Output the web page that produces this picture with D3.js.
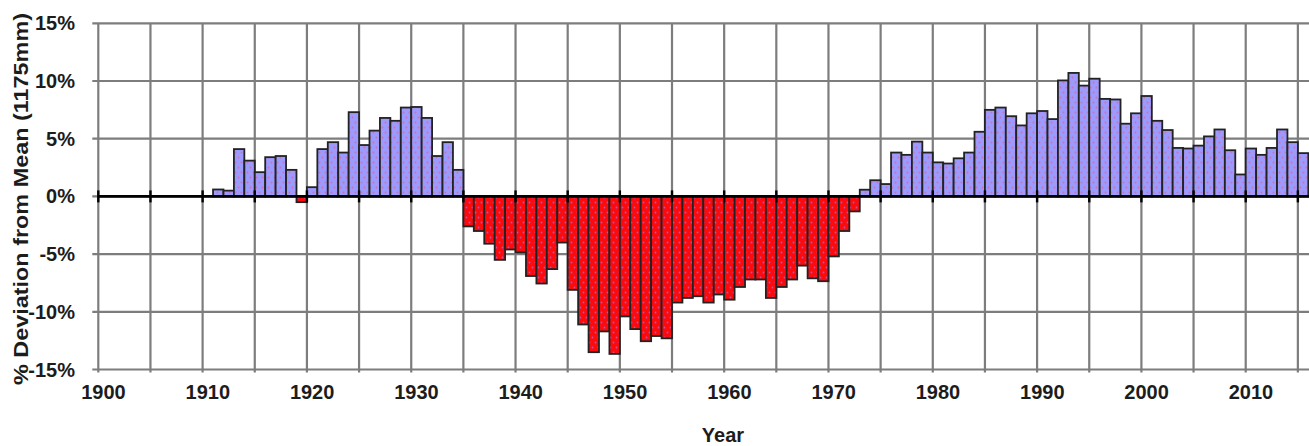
<!DOCTYPE html>
<html>
<head>
<meta charset="utf-8">
<script src="https://cdn.jsdelivr.net/npm/d3@7"></script>
<style>
  body { margin: 0; background: #fff; }
  text { font-family: "Liberation Sans", Arial, sans-serif; font-weight: bold; fill: #1c1c1c; }
</style>
</head>
<body>
<svg id="chart" width="1309" height="446"></svg>
<script>
// year range shown on the category axis
const firstYear = 1900;
const lastYear = 2015;

// % deviation from mean (1175mm), first bar is 1911
const dataStart = 1911;
const deviation = [
  0.6, 0.5, 4.1, 3.1, 2.1, 3.4, 3.5, 2.3, -0.5, 0.8,
  4.1, 4.7, 3.8, 7.3, 4.45, 5.7, 6.8, 6.55, 7.7, 7.75,
  6.8, 3.5, 4.7, 2.3, -2.6, -3.0, -4.1, -5.5, -4.6, -4.85,
  -6.9, -7.55, -6.3, -4.0, -8.1, -11.1, -13.5, -11.7, -13.65, -10.4,
  -11.5, -12.55, -12.1, -12.3, -9.2, -8.8, -8.65, -9.2, -8.5, -8.95,
  -7.85, -7.2, -7.2, -8.8, -7.85, -7.2, -6.0, -7.1, -7.35, -5.2,
  -3.0, -1.3, 0.58, 1.4, 1.07, 3.8, 3.6, 4.75, 3.8, 2.95,
  2.85, 3.3, 3.8, 5.6, 7.5, 7.7, 6.95, 6.15, 7.2, 7.4,
  6.7, 10.05, 10.7, 9.6, 10.2, 8.45, 8.4, 6.3, 7.2, 8.7,
  6.55, 5.75, 4.2, 4.15, 4.4, 5.2, 5.8, 4.0, 1.9, 4.15,
  3.6, 4.2, 5.8, 4.7, 3.75
];

const yTicks = [-15, -10, -5, 0, 5, 10, 15];
const xLabelYears = [1900, 1910, 1920, 1930, 1940, 1950, 1960, 1970, 1980, 1990, 2000, 2010];
const xGridYears = d3.range(firstYear, lastYear + 1, 5);

const data = deviation.map((v, i) => ({ year: dataStart + i, value: v }));

const svg = d3.select("#chart");
const margin = { left: 98.3, right: 1308.3, top: 23.3, bottom: 369.5 };

const x = d3.scaleBand()
  .domain(d3.range(firstYear, lastYear + 1))
  .range([margin.left, margin.right])
  .padding(0);

const y = d3.scaleLinear()
  .domain([-15, 15])
  .range([margin.bottom, margin.top]);

// dotted fills
const defs = svg.append("defs");
function dots(id, bg, dot) {
  const p = defs.append("pattern")
    .attr("id", id)
    .attr("patternUnits", "userSpaceOnUse")
    .attr("width", 6).attr("height", 10);
  p.append("rect").attr("width", 6).attr("height", 10).attr("fill", bg);
  p.append("circle").attr("cx", 1.5).attr("cy", 2.5).attr("r", 0.9).attr("fill", dot);
  p.append("circle").attr("cx", 4.5).attr("cy", 7.5).attr("r", 0.9).attr("fill", dot);
}
dots("bluePat", "#9a9aff", "#e46a9a");
dots("redPat", "#ff0a0a", "#a05ac8");

// grid
svg.append("g")
  .selectAll("line")
  .data(yTicks)
  .join("line")
  .attr("x1", margin.left - 6).attr("x2", 1309)
  .attr("y1", d => y(d)).attr("y2", d => y(d))
  .attr("stroke", "#7d7d7d")
  .attr("stroke-width", 2.2);

svg.append("g")
  .selectAll("line")
  .data(xGridYears)
  .join("line")
  .attr("x1", d => x(d)).attr("x2", d => x(d))
  .attr("y1", margin.top).attr("y2", margin.bottom + 3)
  .attr("stroke", "#7d7d7d")
  .attr("stroke-width", 2.2);

// bars
svg.append("g")
  .selectAll("rect")
  .data(data)
  .join("rect")
  .attr("x", d => x(d.year))
  .attr("width", x.bandwidth())
  .attr("y", d => y(Math.max(0, d.value)))
  .attr("height", d => Math.abs(y(d.value) - y(0)))
  .attr("fill", d => d.value >= 0 ? "url(#bluePat)" : "url(#redPat)")
  .attr("stroke", "#222")
  .attr("stroke-width", 1.8);

// zero axis with ticks
svg.append("line")
  .attr("x1", margin.left).attr("x2", 1309)
  .attr("y1", y(0)).attr("y2", y(0))
  .attr("stroke", "#000")
  .attr("stroke-width", 2.8);

svg.append("g")
  .selectAll("line")
  .data(xGridYears)
  .join("line")
  .attr("x1", d => x(d)).attr("x2", d => x(d))
  .attr("y1", y(0) - 6).attr("y2", y(0) + 6)
  .attr("stroke", "#000")
  .attr("stroke-width", 2.4);

// y labels
svg.append("g")
  .selectAll("text")
  .data(yTicks)
  .join("text")
  .attr("x", 75)
  .attr("y", d => y(d) + 7)
  .attr("text-anchor", "end")
  .attr("font-size", 20)
  .text(d => d + "%");

// x labels
svg.append("g")
  .selectAll("text")
  .data(xLabelYears)
  .join("text")
  .attr("x", d => x(d) + x.bandwidth() / 2)
  .attr("y", 399)
  .attr("text-anchor", "middle")
  .attr("font-size", 20)
  .text(d => d);

// axis titles
svg.append("text")
  .attr("transform", "translate(28,199) rotate(-90)")
  .attr("text-anchor", "middle")
  .attr("font-size", 21)
  .attr("textLength", 372)
  .attr("lengthAdjust", "spacingAndGlyphs")
  .text("% Deviation from Mean (1175mm)");

svg.append("text")
  .attr("x", 723)
  .attr("y", 442)
  .attr("text-anchor", "middle")
  .attr("font-size", 20)
  .text("Year");
</script>
</body>
</html>
